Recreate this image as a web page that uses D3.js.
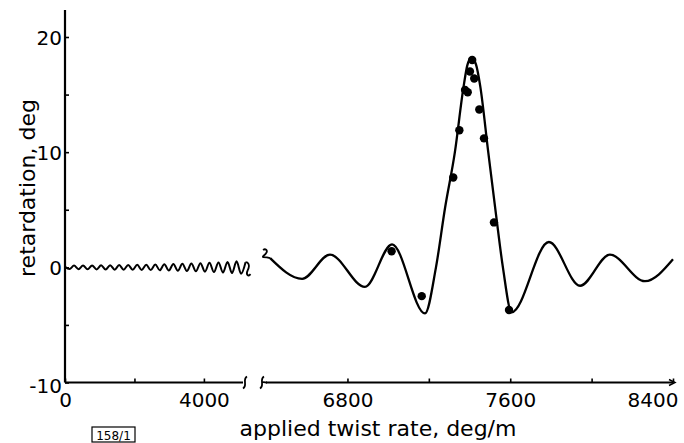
<!DOCTYPE html>
<html>
<head>
<meta charset="utf-8">
<script src="https://cdn.jsdelivr.net/npm/d3@7"></script>
<style>
  body { margin: 0; background: #fff; }
  text { font-family: "DejaVu Sans", sans-serif; fill: #000; }
</style>
</head>
<body>
<div id="plot"></div>
<script>
// Data
// left (compressed) part of the axis: low-twist ripple
const leftTwist = [0, 130, 260, 390, 520, 650, 780, 910, 1040, 1170, 1300, 1430, 1560, 1690,
  1820, 1950, 2080, 2210, 2340, 2470, 2600, 2730, 2860, 2990, 3120, 3250, 3380, 3510, 3640,
  3770, 3900, 4030, 4160, 4290, 4420, 4550, 4680, 4810, 4940, 5070, 5200];
const leftRetard = [0.05, -0.15, 0.15, -0.16, 0.16, -0.17, 0.17, -0.18, 0.18, -0.19, 0.19,
  -0.2, 0.2, -0.21, 0.21, -0.22, 0.22, -0.23, 0.23, -0.24, 0.25, -0.26, 0.27, -0.28, 0.29,
  -0.3, 0.31, -0.32, 0.33, -0.35, 0.36, -0.38, 0.39, -0.41, 0.43, -0.45, 0.47, -0.5, 0.52,
  -0.55, 0.45];

// right part: theoretical curve
const curveTwist = [6420, 6577, 6714, 6886, 7019, 7181, 7235, 7280, 7328, 7370, 7390, 7410,
  7432, 7452, 7492, 7530, 7564, 7607, 7790, 7943, 8090, 8262, 8400];
const curveRetard = [0.8, -1.0, 1.1, -1.7, 2.0, -4.0, 0, 5.2, 10.0, 15.6, 17.6, 18.2,
  17.6, 15.8, 10.0, 4.6, 0, -3.9, 2.2, -1.6, 1.1, -1.2, 0.7];

// measured points
const dotTwist = [7017, 7165, 7320, 7350, 7378, 7391, 7402, 7413, 7423, 7448, 7471, 7520, 7594];
const dotRetard = [1.4, -2.5, 7.8, 11.9, 15.4, 15.2, 17.0, 18.0, 16.4, 13.7, 11.2, 3.9, -3.7];

// ticks
const yTicks = [-10, 0, 10, 20];
const yMinorTicks = [-5, 5, 15];
const leftTicks = [0, 4000];
const leftMinorTicks = [2000];
const rightTicks = [6800, 7600, 8400];
const rightMinorTicks = [7200, 8000];

const W = 684, H = 443;

const svg = d3.select("#plot")
  .append("svg")
  .attr("width", W)
  .attr("height", H);

// Scales (broken x axis: two linear pieces)
const y = d3.scaleLinear().domain([-10, 20]).range([382.5, 37]);
const xL = d3.scaleLinear().domain([0, 5270]).range([65, 248]);
const xR = d3.scaleLinear().domain([6380, 8400]).range([262, 673]);

const axisY = y(-10);
const axisX = xL(0);

// Y axis
const yAxis = svg.append("g")
  .attr("transform", `translate(${axisX},0)`)
  .call(d3.axisLeft(y)
    .tickValues(yTicks.concat(yMinorTicks))
    .tickSize(-4)
    .tickPadding(3)
    .tickFormat(d => yTicks.includes(d) ? String(d) : ""));
yAxis.select(".domain").remove();
yAxis.selectAll(".tick line").attr("stroke", "#000").attr("stroke-width", 1.6);
yAxis.selectAll(".tick text")
  .style("font-size", "20px")
  .style("font-family", "'DejaVu Sans', sans-serif")
  .attr("dy", d => d === -10 ? "0.5em" : "0.36em");

svg.append("line")
  .attr("x1", axisX).attr("x2", axisX)
  .attr("y1", 10).attr("y2", axisY)
  .attr("stroke", "#000").attr("stroke-width", 2.2);

// X axis - left piece
const xAxisL = svg.append("g")
  .attr("transform", `translate(0,${axisY})`)
  .call(d3.axisBottom(xL)
    .tickValues(leftTicks.concat(leftMinorTicks))
    .tickSize(-4)
    .tickPadding(10)
    .tickFormat(d => leftTicks.includes(d) ? String(d) : ""));
xAxisL.select(".domain").remove();

// X axis - right piece
const xAxisR = svg.append("g")
  .attr("transform", `translate(0,${axisY})`)
  .call(d3.axisBottom(xR)
    .tickValues(rightTicks.concat(rightMinorTicks))
    .tickSize(-4)
    .tickPadding(10)
    .tickFormat(d => rightTicks.includes(d) ? String(d) : ""));
xAxisR.select(".domain").remove();

[xAxisL, xAxisR].forEach(g => {
  g.selectAll(".tick line").attr("stroke", "#000").attr("stroke-width", 1.6);
  g.selectAll(".tick text")
    .style("font-size", "20px")
    .style("font-family", "'DejaVu Sans', sans-serif");
});
// last label is pulled in to fit
xAxisR.selectAll(".tick text").filter(d => d === 8400).attr("text-anchor", "end").attr("x", 5);

// axis lines with break marks
svg.append("line")
  .attr("x1", axisX).attr("x2", xL(5270) - 5)
  .attr("y1", axisY).attr("y2", axisY)
  .attr("stroke", "#000").attr("stroke-width", 2.2);
svg.append("line")
  .attr("x1", xR(6380) + 4).attr("x2", xR(8400))
  .attr("y1", axisY).attr("y2", axisY)
  .attr("stroke", "#000").attr("stroke-width", 2.2);
// arrow tip
svg.append("path")
  .attr("d", `M${xR(8400) - 4},${axisY - 3} L${xR(8400) + 2},${axisY} L${xR(8400) - 4},${axisY + 3}`)
  .attr("fill", "none").attr("stroke", "#000").attr("stroke-width", 1.5);

const bL = xL(5270) - 3;
svg.append("path")
  .attr("d", `M${bL + 2},${axisY - 6} C${bL - 3},${axisY - 3} ${bL + 3},${axisY + 3} ${bL - 2},${axisY + 6}`)
  .attr("fill", "none").attr("stroke", "#000").attr("stroke-width", 1.8);
const bR = xR(6380);
svg.append("path")
  .attr("d", `M${bR + 2},${axisY - 6} C${bR - 3},${axisY - 3} ${bR + 3},${axisY + 3} ${bR - 2},${axisY + 6}` +
    ` M${bR},${axisY} C${bR + 2},${axisY - 1} ${bR + 3},${axisY} ${bR + 5},${axisY}`)
  .attr("fill", "none").attr("stroke", "#000").attr("stroke-width", 1.8);

// Curves
const leftData = leftTwist.map((t, i) => [t, leftRetard[i]]);
const rightData = curveTwist.map((t, i) => [t, curveRetard[i]]);

const lineL = d3.line().x(d => xL(d[0])).y(d => y(d[1])).curve(d3.curveMonotoneX);
const lineR = d3.line().x(d => xR(d[0])).y(d => y(d[1])).curve(d3.curveMonotoneX);

svg.append("path")
  .datum(leftData)
  .attr("d", lineL)
  .attr("fill", "none").attr("stroke", "#000").attr("stroke-width", 2);

svg.append("path")
  .datum(rightData)
  .attr("d", lineR)
  .attr("fill", "none").attr("stroke", "#000").attr("stroke-width", 2.3);

// break squiggles on the curve
const last = leftData[leftData.length - 1];
const ex = xL(last[0]), ey = y(last[1]);
svg.append("path")
  .attr("d", `M${ex},${ey} c3,0 4,3 3,6 c-1,3 -3,5 -1,7 c1,1 2,0 3,-1`)
  .attr("fill", "none").attr("stroke", "#000").attr("stroke-width", 1.8);
const sx = xR(rightData[0][0]), sy = y(rightData[0][1]);
svg.append("path")
  .attr("d", `M${sx - 7},${sy - 8} c2,-2 5,0 3,3 c-1,2 -4,3 -3,4 c1,0 4,0 7,1`)
  .attr("fill", "none").attr("stroke", "#000").attr("stroke-width", 1.8);

// Measured points
svg.selectAll(".dot")
  .data(dotTwist.map((t, i) => [t, dotRetard[i]]))
  .enter()
  .append("circle")
  .attr("class", "dot")
  .attr("cx", d => xR(d[0]))
  .attr("cy", d => y(d[1]))
  .attr("r", 4.2)
  .attr("fill", "#000");

// Axis labels
svg.append("text")
  .attr("text-anchor", "middle")
  .attr("transform", `translate(35,188) rotate(-90)`)
  .style("font-size", "22px")
  .text("retardation, deg");

svg.append("text")
  .attr("text-anchor", "middle")
  .attr("x", 378)
  .attr("y", 436)
  .style("font-size", "22px")
  .text("applied twist rate, deg/m");

// figure number box
svg.append("rect")
  .attr("x", 92).attr("y", 427)
  .attr("width", 43).attr("height", 15)
  .attr("fill", "none").attr("stroke", "#000").attr("stroke-width", 1.2);
svg.append("text")
  .attr("x", 113.5).attr("y", 440)
  .attr("text-anchor", "middle")
  .style("font-size", "12px")
  .text("158/1");
</script>
</body>
</html>
